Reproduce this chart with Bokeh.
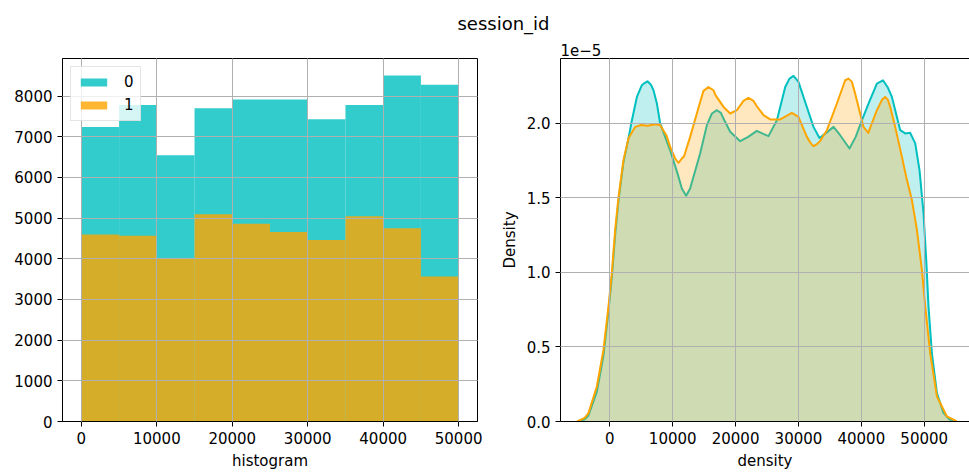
import numpy as np
from bokeh.plotting import figure
from bokeh.models import Range1d, FixedTicker, LinearAxis, Label, NumeralTickFormatter
from bokeh.layouts import column, row
from bokeh.embed import file_html
from bokeh.resources import INLINE

FONT = "DejaVu Sans"
TEAL = "#00BFBF"
ORANGE = "#FFA500"

# ---------------- data ----------------
title_text = "session_id"
series_labels = ["0", "1"]

bin_edges = [0, 5000, 10000, 15000, 20000, 25000, 30000, 35000, 40000, 45000, 50000]
hist_count_0 = [7240, 7780, 6545, 7700, 7920, 7920, 7430, 7780, 8505, 8280]
hist_count_1 = [4600, 4570, 4015, 5095, 4865, 4660, 4465, 5045, 4750, 3565]
hist_x_ticks = [0, 10000, 20000, 30000, 40000, 50000]
hist_y_ticks = [0, 1000, 2000, 3000, 4000, 5000, 6000, 7000, 8000]

# KDE curves, density values in units of 1e-5
kde_x_0 = [-5000, -4000, -3400, -2070, -1020, -220, 320, 840, 1370, 2160, 2960, 3500, 4300, 5090,
           5400, 5980, 6500, 6940, 7480, 8000, 9590, 10760, 11450, 12140, 12770, 13300, 14370,
           15430, 16230, 17020, 17660, 18070, 19140, 20730, 22000, 23380, 24400, 25230, 26570,
           27890, 28570, 29210, 30000, 30800, 32390, 33340, 34500, 35570, 36630, 38110, 39100,
           40090, 41300, 42470, 43430, 44160, 44860, 46180, 46980, 47770, 48570, 49250, 49890,
           50320, 50680, 51220, 52020, 53070, 54000, 54800]
kde_d_0 = [0.0, 0.015, 0.04, 0.2, 0.44, 0.74, 0.97, 1.25, 1.48, 1.74, 1.9, 2.02, 2.178, 2.257,
           2.268, 2.283, 2.262, 2.223, 2.134, 2.0, 1.82, 1.665, 1.564, 1.515, 1.564, 1.642, 1.80,
           1.989, 2.067, 2.089, 2.071, 2.033, 1.944, 1.881, 1.91, 1.95, 1.93, 1.915, 2.022,
           2.245, 2.301, 2.319, 2.279, 2.178, 1.977, 1.903, 1.94, 1.977, 1.921, 1.832, 1.91,
           2.022, 2.15, 2.268, 2.29, 2.245, 2.178, 1.955, 1.933, 1.937, 1.866, 1.687, 1.397,
           1.084, 0.771, 0.458, 0.19, 0.056, 0.015, 0.0]
kde_x_1 = [-5200, -4000, -3400, -2070, -1020, -220, 320, 840, 1370, 2160, 2960, 4020, 5000, 6000,
           7200, 8000, 9000, 9590, 10390, 10920, 11450, 11800, 12770, 14200, 14890, 15690, 16480,
           16800, 18080, 19140, 20200, 21250, 22050, 22840, 23300, 24440, 25500, 27100, 28950,
           30000, 31340, 31900, 32390, 32900, 33400, 34520, 36110, 37430, 37960, 38500, 39020,
           39550, 40340, 41100, 42470, 43300, 43790, 44200, 44590, 45380, 46450, 47250, 48040,
           48840, 49630, 50160, 50950, 52020, 53610, 55200]
kde_d_1 = [0.0, 0.025, 0.056, 0.235, 0.48, 0.771, 1.0, 1.285, 1.504, 1.754, 1.9, 1.977, 1.99, 1.985,
           1.995, 1.99, 1.92, 1.843, 1.765, 1.736, 1.765, 1.78, 1.91, 2.12, 2.219, 2.245, 2.223,
           2.19, 2.111, 2.067, 2.089, 2.152, 2.172, 2.152, 2.12, 2.056, 2.027, 2.027, 2.071,
           2.044, 1.91, 1.87, 1.848, 1.86, 1.88, 1.955, 2.134, 2.29, 2.301, 2.279, 2.2,
           2.111, 1.977, 1.937, 2.089, 2.16, 2.178, 2.16, 2.111, 1.977, 1.776, 1.62, 1.486,
           1.285, 1.017, 0.771, 0.458, 0.168, 0.034, 0.0]
dens_x_ticks = [0, 10000, 20000, 30000, 40000, 50000]
dens_y_ticks = [0.0, 0.5, 1.0, 1.5, 2.0]
dens_scale_text = "1e\u22125"


def style_axis(ax):
    ax.axis_line_color = "black"
    ax.axis_line_width = 1
    ax.major_tick_line_color = "black"
    ax.major_tick_in = 0
    ax.major_tick_out = 5
    ax.minor_tick_line_color = None
    ax.major_label_text_font = FONT
    ax.major_label_text_font_size = "15px"
    ax.major_label_text_color = "black"
    ax.major_label_standoff = 5
    ax.axis_label_text_font = FONT
    ax.axis_label_text_font_size = "15px"
    ax.axis_label_text_font_style = "normal"
    ax.axis_label_text_color = "black"
    ax.axis_label_standoff = 5


def style_grid(p):
    for g in (p.xgrid, p.ygrid):
        g.grid_line_color = "#b0b0b0"
        g.grid_line_width = 1
        g.level = "guide"


# ---------------- title strip ----------------
STRIP_H = 58
pt = figure(width=969, height=STRIP_H, x_range=Range1d(0, 969), y_range=Range1d(0, STRIP_H),
            toolbar_location=None, output_backend="svg", x_axis_type=None, y_axis_type=None,
            min_border=0)
pt.outline_line_color = None
pt.grid.visible = False
pt.add_layout(Label(x=503, y=STRIP_H - 23, text=title_text, text_align="center",
                    text_baseline="alphabetic", text_font=FONT, text_font_size="18px",
                    text_color="black"))
pt.add_layout(Label(x=560, y=STRIP_H - 49, text=dens_scale_text, text_align="left",
                    text_baseline="alphabetic", text_font=FONT, text_font_size="15px",
                    text_color="black"))

# ---------------- histogram ----------------
p1 = figure(width=490, height=414, x_range=Range1d(-2500, 52500), y_range=Range1d(0, 8925),
            toolbar_location=None, output_backend="svg",
            min_border_left=62, min_border_right=13, min_border_top=0, min_border_bottom=50)
p1.outline_line_color = "black"
p1.outline_line_width = 1
p1.outline_line_alpha = 1
left = bin_edges[:-1]
right = bin_edges[1:]
p1.quad(left=left, right=right, bottom=0, top=hist_count_0, fill_color=TEAL, fill_alpha=0.8,
        line_color=None, legend_label=series_labels[0])
p1.quad(left=left, right=right, bottom=0, top=hist_count_1, fill_color=ORANGE, fill_alpha=0.8,
        line_color=None, legend_label=series_labels[1])
p1.xaxis.ticker = FixedTicker(ticks=hist_x_ticks)
p1.yaxis.ticker = FixedTicker(ticks=hist_y_ticks)
p1.xaxis.axis_label = "histogram"
style_axis(p1.xaxis[0])
style_axis(p1.yaxis[0])
style_grid(p1)
lg = p1.legend[0]
lg.location = "top_left"
lg.margin = 8
lg.padding = 6
lg.spacing = 5
lg.glyph_width = 33
lg.glyph_height = 10
lg.label_height = 18
lg.label_width = 8
lg.label_standoff = 14
lg.label_text_font = FONT
lg.label_text_font_size = "15px"
lg.label_text_color = "black"
lg.border_line_color = "#cccccc"
lg.border_line_width = 1
lg.background_fill_color = "white"
lg.background_fill_alpha = 0.8

# ---------------- density ----------------
p2 = figure(width=479, height=414, x_range=Range1d(-7850, 57200), y_range=Range1d(0, 2.436),
            toolbar_location=None, output_backend="svg",
            min_border_left=70, min_border_right=0, min_border_top=0, min_border_bottom=50)
p2.outline_line_color = None
p2.varea(x=kde_x_0, y1=0, y2=kde_d_0, fill_color=TEAL, fill_alpha=0.25)
p2.line(x=kde_x_0, y=kde_d_0, line_color=TEAL, line_width=2, line_join="round")
p2.varea(x=kde_x_1, y1=0, y2=kde_d_1, fill_color=ORANGE, fill_alpha=0.25)
p2.line(x=kde_x_1, y=kde_d_1, line_color=ORANGE, line_width=2, line_join="round")
p2.xaxis.ticker = FixedTicker(ticks=dens_x_ticks)
p2.yaxis.ticker = FixedTicker(ticks=dens_y_ticks)
p2.yaxis.formatter = NumeralTickFormatter(format="0.0")
p2.xaxis.axis_label = "density"
p2.yaxis.axis_label = "Density"
style_axis(p2.xaxis[0])
style_axis(p2.yaxis[0])
top_ax = LinearAxis(ticker=FixedTicker(ticks=[]), major_label_text_font_size="0px",
                    major_tick_in=0, major_tick_out=0, minor_tick_line_color=None,
                    axis_line_color="black", axis_line_width=1, major_label_standoff=0)
p2.add_layout(top_ax, "above")
style_grid(p2)

layout = column(pt, row(p1, p2))
open("out.html", "w").write(file_html(layout, INLINE))
